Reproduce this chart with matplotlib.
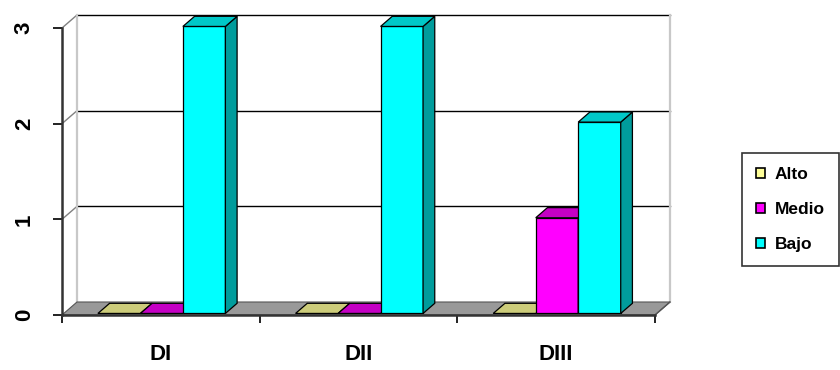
import matplotlib
matplotlib.use("Agg")
import matplotlib.pyplot as plt
from matplotlib.patches import Polygon, Patch

plt.rcParams['font.family'] = ['Liberation Sans', 'DejaVu Sans']

categories = ["DI", "DII", "DIII"]
series_names = ["Alto", "Medio", "Bajo"]
alto = [0, 0, 0]
medio = [0, 0, 1]
bajo = [3, 3, 2]
y_ticks = [0, 1, 2, 3]

series_values = [alto, medio, bajo]
front_colors = ["#ffff99", "#ff00ff", "#00ffff"]
top_colors = ["#cccc7a", "#c400c4", "#00c8c8"]
side_colors = ["#a8a860", "#990099", "#009c9c"]

W, H = 840, 370
fig = plt.figure(figsize=(W / 100, H / 100), dpi=100)

# axes placement (front plane: x 0..3, y 0..3)
x0_px, x3_px = 62, 655
y0_px, y3_px = 315, 28
ux = (x3_px - x0_px) / 3
uy = (y0_px - y3_px) / 3
xl, xr = -0.1, 3.2
yb, yt = -0.1, 3.25
left_px = x0_px + xl * ux
right_px = x0_px + xr * ux
bot_px = y0_px - yb * uy
top_px = y0_px - yt * uy
ax = fig.add_axes([left_px / W, 1 - bot_px / H, (right_px - left_px) / W, (bot_px - top_px) / H])
ax.set_xlim(xl, xr)
ax.set_ylim(yb, yt)

# depth of the 3-D box, expressed in data units via the axes transform
p00 = ax.transData.transform((0, 0))
p11 = ax.transData.transform((1, 1))
dx = 15 / (p11[0] - p00[0])
dy = 13 / (p11[1] - p00[1])

n = len(categories)

# back wall
ax.add_patch(Polygon([(dx, dy), (n + dx, dy), (n + dx, 3 + dy), (dx, 3 + dy)],
                     closed=True, facecolor="white", edgecolor="none", zorder=0))
for k in y_ticks[1:]:
    ax.plot([dx, n + dx], [k + dy, k + dy], color="#000000", lw=1.0, zorder=1)
    ax.plot([0, dx], [k, k + dy], color="#808080", lw=1.0, zorder=1)
ax.plot([dx, dx], [dy, 3 + dy], color="#c8c8c8", lw=1.6, zorder=1)
ax.plot([n + dx, n + dx], [dy, 3 + dy], color="#c8c8c8", lw=1.6, zorder=1)

# floor
ax.add_patch(Polygon([(0, 0), (n, 0), (n + dx, dy), (dx, dy)], closed=True,
                     facecolor="#999999", edgecolor="#555555", lw=0.8, zorder=2))

# 3-D columns
bw = 0.215
f0, f1 = 0.12, 0.9
z = 3
for i in range(n):
    for j, vals in enumerate(series_values):
        v = vals[i]
        xa = i + 0.5 + (j - 1.5) * bw - 0.005
        xb = xa + bw
        ox0, oy0 = f0 * dx, f0 * dy
        ox1, oy1 = f1 * dx, f1 * dy
        if v > 0:
            ax.bar(xa + ox0, v, width=bw, bottom=oy0, align="edge",
                   color=front_colors[j], edgecolor="black", lw=0.9, zorder=z)
            ax.add_patch(Polygon([(xb + ox0, oy0), (xb + ox1, oy1), (xb + ox1, v + oy1), (xb + ox0, v + oy0)],
                                 closed=True, facecolor=side_colors[j], edgecolor="black", lw=0.9, zorder=z))
        ax.add_patch(Polygon([(xa + ox0, v + oy0), (xb + ox0, v + oy0), (xb + ox1, v + oy1), (xa + ox1, v + oy1)],
                             closed=True, facecolor=top_colors[j], edgecolor="black", lw=0.9, zorder=z))
        z += 1

# axes lines and ticks
for s in ["top", "right"]:
    ax.spines[s].set_visible(False)
ax.spines["left"].set_position(("data", 0))
ax.spines["bottom"].set_position(("data", 0))
ax.spines["left"].set_bounds(0, 3)
ax.spines["bottom"].set_bounds(0, n)
for s in ["left", "bottom"]:
    ax.spines[s].set_color("#333333")
    ax.spines[s].set_linewidth(1.8)
    ax.spines[s].set_zorder(50)

ax.set_yticks(y_ticks)
ax.set_yticklabels([str(t) for t in y_ticks], rotation=90, va="center",
                   fontsize=16, fontweight="bold")
ax.tick_params(axis="y", length=6.5, width=1.4, color="#222222", pad=13)

ax.set_xticks(range(n + 1))
ax.set_xticklabels([])
ax.tick_params(axis="x", which="major", length=6, width=1.4, color="#222222")
ax.set_xticks([i + 0.5 for i in range(n)], minor=True)
ax.set_xticklabels(categories, minor=True, fontsize=16, fontweight="bold")
ax.tick_params(axis="x", which="minor", length=0, pad=21)

# floor right edge
ax.plot([n, n + dx], [0, dy], color="#555555", lw=1.0, zorder=2)

handles = [Patch(facecolor=c, edgecolor="black", lw=1.2) for c in front_colors]
leg = fig.legend(handles, series_names, loc="upper left",
                 bbox_to_anchor=(742 / W, 1 - 153 / H),
                 prop={"weight": "bold", "size": 12.5},
                 frameon=True, fancybox=False, edgecolor="black",
                 handlelength=0.5, handleheight=0.5, handletextpad=0.6,
                 labelspacing=1.15, borderpad=0.8, borderaxespad=0)
leg.get_frame().set_linewidth(1.2)

fig.savefig("out.png", dpi=100)
